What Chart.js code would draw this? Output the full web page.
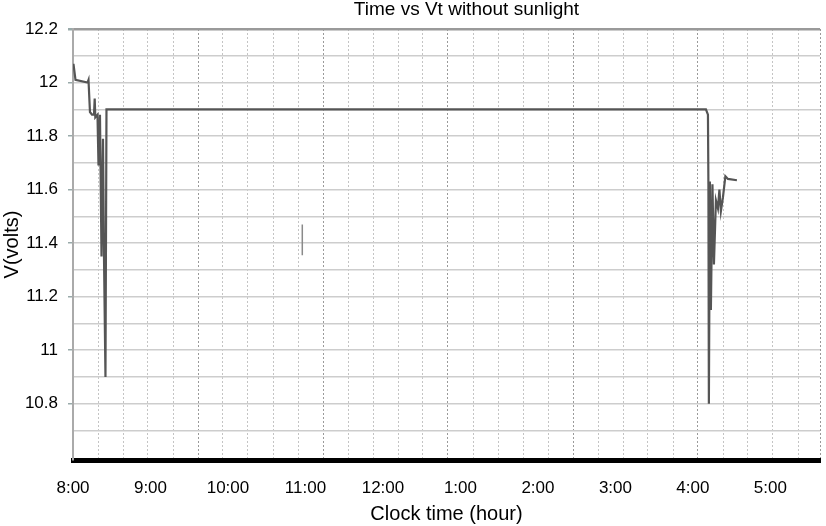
<!DOCTYPE html>
<html>
<head>
<meta charset="utf-8">
<script src="https://cdn.jsdelivr.net/npm/chart.js@4/dist/chart.umd.min.js"></script>
<style>
  body { margin: 0; background: #fff; }
</style>
</head>
<body>
<canvas id="vt-chart" width="826" height="526"></canvas>
<script>
// clock time in hours (13 = 1 pm) and terminal voltage
const times = [8.006, 8.032, 8.187, 8.200, 8.219, 8.245, 8.271, 8.280, 8.288, 8.316, 8.329,
  8.348, 8.368, 8.387, 8.400, 8.419, 8.432, 16.168, 16.194, 16.200, 16.206, 16.219, 16.232,
  16.252, 16.271, 16.297, 16.323, 16.342, 16.361, 16.387, 16.419, 16.452, 16.568];
const volts = [12.07, 12.01, 12.0, 12.01, 11.89, 11.88, 11.88, 11.94, 11.87, 11.88, 11.69,
  11.88, 11.35, 11.79, 11.35, 10.9, 11.9, 11.9, 11.88, 11.62, 10.8, 11.63, 11.15,
  11.62, 11.32, 11.56, 11.53, 11.6, 11.52, 11.57, 11.65, 11.64, 11.635];

// the stray little mark near 11:00
const markTimes = [10.959, 10.959];
const markVolts = [11.47, 11.355];

const hourTicks = [8, 9, 10, 11, 12, 13, 14, 15, 16, 17];
const hourLabels = ["8:00", "9:00", "10:00", "11:00", "12:00", "1:00", "2:00", "3:00", "4:00", "5:00"];

const chartTitle = "Time vs Vt without sunlight";
const xMin = 8, xMax = 17.64;
const gridCount = 30;

const font = '"Liberation Sans", Arial, sans-serif';

function pts(xs, ys) {
  return xs.map(function(x, i) { return {x: x, y: ys[i]}; });
}

function isMajor(v) {
  const t = v * 10;
  return Math.abs(t - Math.round(t)) < 1e-6 && Math.round(t) % 2 === 0 && v > 10.7;
}

const titlePlugin = {
  id: 'topTitle',
  afterDraw: function(chart) {
    const ctx = chart.ctx, a = chart.chartArea;
    ctx.save();
    ctx.font = '19px ' + font;
    ctx.fillStyle = '#000';
    ctx.textAlign = 'center';
    ctx.textBaseline = 'middle';
    ctx.fillText(chartTitle, (a.left + a.right) / 2 + 20, 10);
    ctx.restore();
  }
};

new Chart(document.getElementById("vt-chart"), {
  type: 'line',
  data: {
    datasets: [
      {
        data: pts(times, volts),
        borderColor: '#555',
        borderWidth: 2.2,
        pointRadius: 0,
        tension: 0
      },
      {
        data: pts(markTimes, markVolts),
        borderColor: '#8a8a8a',
        borderWidth: 1.5,
        pointRadius: 0
      }
    ]
  },
  plugins: [titlePlugin],
  options: {
    responsive: false,
    animation: false,
    devicePixelRatio: 1,
    layout: { padding: { top: 29, right: 6, left: 0, bottom: 0 } },
    plugins: {
      legend: { display: false },
      tooltip: { enabled: false }
    },
    scales: {
      xg: {
        type: 'linear',
        position: 'bottom',
        weight: 0,
        min: xMin,
        max: xMax,
        afterBuildTicks: function(scale) {
          const step = (xMax - xMin) / (gridCount - 0.12);
          const t = [];
          for (let i = 0; i < gridCount; i++) t.push({value: xMin + i * step});
          t.push({value: xMax});
          scale.ticks = t;
        },
        afterFit: function(scale) { scale.height = 0; },
        ticks: { display: false },
        grid: {
          drawTicks: false,
          lineWidth: 1,
          color: function(c) { return (c.index % 5 === 0) ? '#9a9a9a' : '#c4c4c4'; }
        },
        border: { display: true, color: '#000', width: 5, dash: [2, 2] }
      },
      x: {
        type: 'linear',
        position: 'bottom',
        weight: 1,
        min: xMin,
        max: xMax,
        afterBuildTicks: function(scale) {
          scale.ticks = hourTicks.map(function(v) { return {value: v}; });
        },
        afterFit: function(scale) { scale.height = 66; },
        ticks: {
          autoSkip: false,
          maxRotation: 0,
          padding: 18,
          color: '#000',
          font: { family: font, size: 17 },
          callback: function(v, i) { return hourLabels[i]; }
        },
        grid: { display: false, drawTicks: false },
        border: { display: false },
        title: {
          display: true,
          text: 'Clock time (hour)',
          color: '#000',
          font: { family: font, size: 20 },
          padding: { top: 3, bottom: 0 }
        }
      },
      y: {
        min: 10.59,
        max: 12.2,
        afterFit: function(scale) { scale.width = 73; },
        ticks: {
          stepSize: 0.1,
          padding: 10,
          color: '#000',
          font: { family: font, size: 17 },
          callback: function(v) { return isMajor(v) ? String(Math.round(v * 10) / 10) : ''; }
        },
        grid: {
          tickLength: 5,
          color: function(c) { return (c.tick && Math.abs(c.tick.value - 12.2) < 1e-6) ? '#9a9a9a' : '#cdcdcd'; },
          lineWidth: function(c) { return (c.tick && Math.abs(c.tick.value - 12.2) < 1e-6) ? 2.5 : 1.5; },
          tickColor: function(c) { return (c.tick && isMajor(c.tick.value)) ? '#9aa' : 'rgba(0,0,0,0)'; }
        },
        border: { display: true, color: '#aaa', width: 2 },
        title: {
          display: true,
          text: 'V(volts)',
          color: '#000',
          font: { family: font, size: 20 },
          padding: { top: 0, bottom: 0 }
        }
      }
    }
  }
});
</script>
</body>
</html>
